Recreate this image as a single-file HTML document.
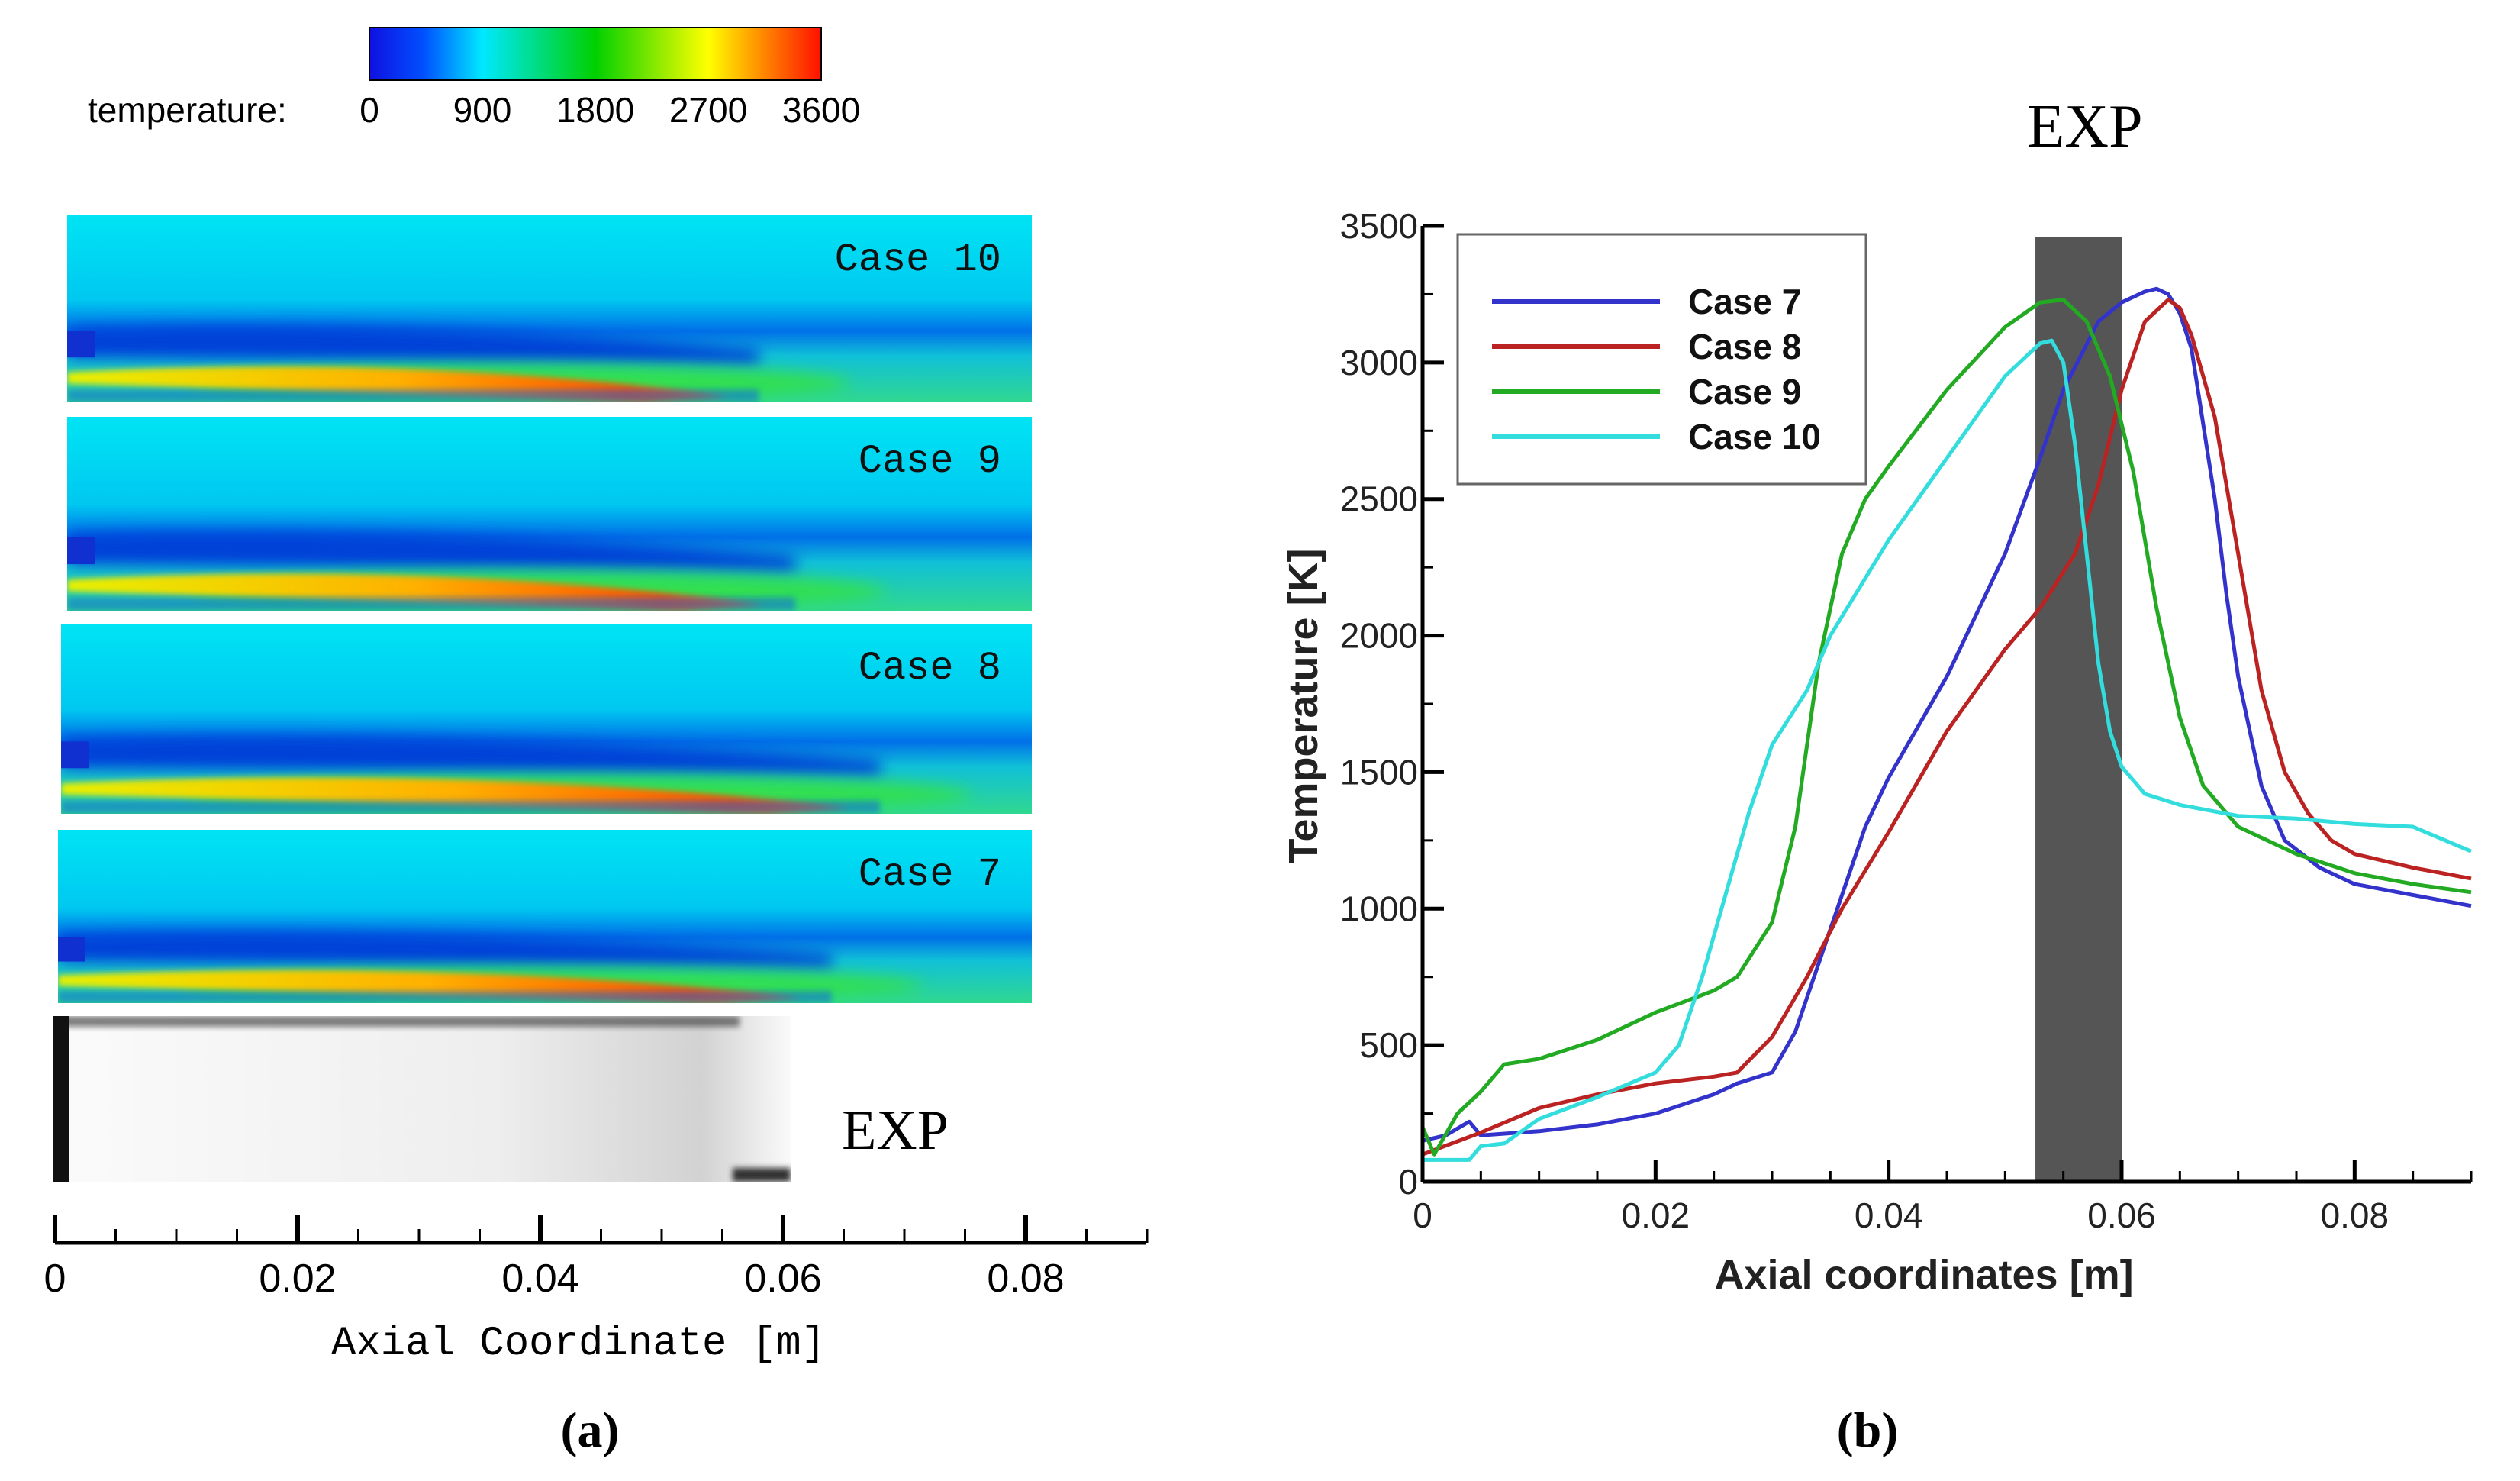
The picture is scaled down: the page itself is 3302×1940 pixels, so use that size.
<!DOCTYPE html>
<html><head><meta charset="utf-8"><style>
html,body{margin:0;padding:0;background:#fff;}
svg{display:block;}
</style></head><body>
<svg id="root" width="3302" height="1940" viewBox="0 0 3302 1940" xmlns="http://www.w3.org/2000/svg" font-family="Liberation Sans, sans-serif">
<defs>
<linearGradient id="cbar" x1="0" x2="1" y1="0" y2="0">
<stop offset="0" stop-color="#1010e0"/><stop offset="0.12" stop-color="#0050ff"/><stop offset="0.25" stop-color="#00e8ff"/><stop offset="0.5" stop-color="#00d000"/><stop offset="0.75" stop-color="#ffff00"/><stop offset="0.88" stop-color="#ff8000"/><stop offset="1" stop-color="#ff1000"/></linearGradient>
<linearGradient id="bg" x1="0" x2="0" y1="0" y2="1">
<stop offset="0" stop-color="#00e4f4"/><stop offset="0.45" stop-color="#00c8f0"/><stop offset="0.62" stop-color="#0070e8"/><stop offset="0.75" stop-color="#10c0d8"/><stop offset="1" stop-color="#30d890"/></linearGradient>
<linearGradient id="flame" x1="0" x2="1" y1="0" y2="0">
<stop offset="0" stop-color="#e8f000"/><stop offset="0.5" stop-color="#ffb000"/><stop offset="0.85" stop-color="#ff5000"/><stop offset="1" stop-color="#ff7000"/></linearGradient>
<linearGradient id="exp" x1="0" x2="1" y1="0" y2="0">
<stop offset="0" stop-color="#fbfbfb"/><stop offset="0.6" stop-color="#eeeeee"/><stop offset="0.88" stop-color="#d2d2d2"/><stop offset="1" stop-color="#fafafa"/></linearGradient>
<filter id="blur" x="-10%" y="-50%" width="120%" height="200%"><feGaussianBlur stdDeviation="10"/></filter>
<filter id="blur2" x="-10%" y="-50%" width="120%" height="200%"><feGaussianBlur stdDeviation="4"/></filter>
<clipPath id="c10"><rect x="88" y="282" width="1264" height="245"/></clipPath>
<clipPath id="c9"><rect x="88" y="546" width="1264" height="254"/></clipPath>
<clipPath id="c8"><rect x="80" y="817" width="1272" height="249"/></clipPath>
<clipPath id="c7"><rect x="76" y="1087" width="1276" height="227"/></clipPath>
<clipPath id="cexp"><rect x="69" y="1331" width="967" height="217"/></clipPath>
</defs>

<g>
<rect x="484" y="36" width="592" height="69" fill="url(#cbar)" stroke="#000" stroke-width="2"/>
<text x="115" y="160" font-size="46">temperature:</text>
<g font-size="46" text-anchor="middle"><text x="484" y="160">0</text><text x="632" y="160">900</text><text x="780" y="160">1800</text><text x="928" y="160">2700</text><text x="1076" y="160">3600</text></g>
</g>
<g id="panels"></g>
<g clip-path="url(#cexp)">
<rect x="69" y="1331" width="967" height="217" fill="url(#exp)"/>
<rect x="69" y="1331" width="900" height="14" fill="#444" opacity="0.7" filter="url(#blur2)"/>
<rect x="69" y="1331" width="22" height="217" fill="#111"/>
<rect x="960" y="1530" width="76" height="18" fill="#333" filter="url(#blur2)"/>
</g>
<text x="1173" y="1505" font-family="Liberation Serif, serif" font-size="74" text-anchor="middle">EXP</text>
<g id="axisA"></g>
<text x="758" y="1774" font-family="Liberation Mono, monospace" font-size="54" text-anchor="middle">Axial Coordinate [m]</text>
<text x="773" y="1895" font-family="Liberation Serif, serif" font-size="66" font-weight="bold" text-anchor="middle">(a)</text>

<text x="2732" y="192" font-family="Liberation Serif, serif" font-size="80" text-anchor="middle">EXP</text>
<g id="chartB"></g>
<text x="2447" y="1895" font-family="Liberation Serif, serif" font-size="66" font-weight="bold" text-anchor="middle">(b)</text>
</svg>
<script>
const NS='http://www.w3.org/2000/svg';
function mk(tag,attrs,parent){const e=document.createElementNS(NS,tag);for(const k in attrs)e.setAttribute(k,attrs[k]);parent.appendChild(e);return e;}

const seriesNames=['Case 7','Case 8','Case 9','Case 10'];
const seriesColors=['#3333cc','#bb2222','#22aa22','#33dddd'];
const case7X=[0,0.002,0.004,0.005,0.01,0.015,0.02,0.025,0.027,0.03,0.032,0.034,0.036,0.038,0.04,0.045,0.05,0.053,0.055,0.058,0.06,0.062,0.063,0.064,0.065,0.066,0.068,0.069,0.07,0.072,0.074,0.077,0.08,0.085,0.09];
const case7Y=[150,170,220,170,185,210,250,320,360,400,550,800,1050,1300,1480,1850,2300,2650,2900,3150,3220,3260,3270,3250,3180,3050,2500,2150,1850,1450,1250,1150,1090,1050,1010];
const case8X=[0,0.005,0.01,0.015,0.02,0.025,0.027,0.03,0.033,0.036,0.04,0.045,0.05,0.053,0.056,0.058,0.06,0.062,0.064,0.065,0.066,0.068,0.07,0.072,0.074,0.076,0.078,0.08,0.085,0.09];
const case8Y=[100,180,270,320,360,385,400,530,750,1000,1280,1650,1950,2100,2300,2550,2900,3150,3230,3200,3100,2800,2300,1800,1500,1350,1250,1200,1150,1110];
const case9X=[0,0.001,0.003,0.005,0.007,0.01,0.015,0.02,0.025,0.027,0.03,0.032,0.034,0.036,0.038,0.04,0.045,0.05,0.053,0.055,0.057,0.059,0.061,0.063,0.065,0.067,0.07,0.075,0.08,0.085,0.09];
const case9Y=[200,100,250,330,430,450,520,620,700,750,950,1300,1900,2300,2500,2620,2900,3130,3220,3230,3150,2950,2600,2100,1700,1450,1300,1200,1130,1090,1060];
const case10X=[0,0.004,0.005,0.007,0.01,0.015,0.02,0.022,0.024,0.026,0.028,0.03,0.033,0.035,0.04,0.045,0.05,0.053,0.054,0.055,0.056,0.057,0.058,0.059,0.06,0.062,0.065,0.07,0.075,0.08,0.085,0.09];
const case10Y=[80,80,130,140,230,310,400,500,750,1050,1350,1600,1800,2000,2350,2650,2950,3070,3080,3000,2700,2300,1900,1650,1520,1420,1380,1340,1330,1310,1300,1210];
const xTicks=[0,0.02,0.04,0.06,0.08];
const xTickLabels=['0','0.02','0.04','0.06','0.08'];
const yTicks=[0,500,1000,1500,2000,2500,3000,3500];
const expBand=[0.0526,0.0600];

const X0=1864,X1=3238,Y0=1548,Y1=296,XMAX=0.09,YMAX=3500;
const sx=v=>X0+(X1-X0)*v/XMAX;
const sy=v=>Y0-(Y0-Y1)*v/YMAX;
const g=document.getElementById('chartB');

let band=mk('rect',{x:sx(expBand[0]),y:sy(3460),width:sx(expBand[1])-sx(expBand[0]),height:Y0-sy(3460),fill:'#555'},g);



const allX=[case7X,case8X,case9X,case10X],allY=[case7Y,case8Y,case9Y,case10Y];
const lineNames=['line-case-7','line-case-8','line-case-9','line-case-10'];
for(let s=0;s<4;s++){
  let d='';
  for(let i=0;i<allX[s].length;i++)d+=(i?'L':'M')+sx(allX[s][i]).toFixed(1)+','+sy(allY[s][i]).toFixed(1);
  const p=mk('path',{d:d,fill:'none',stroke:seriesColors[s],'stroke-width':5,'stroke-linejoin':'round'},g);
  
  
}
mk('line',{x1:X0,y1:Y0,x2:X1,y2:Y0,stroke:'#000','stroke-width':5},g);
mk('line',{x1:X0,y1:Y0,x2:X0,y2:Y1,stroke:'#000','stroke-width':5},g);
for(let v=0;v<=0.0901;v+=0.005){const x=sx(v);const maj=Math.abs(v/0.02-Math.round(v/0.02))<1e-6;mk('line',{x1:x,y1:Y0,x2:x,y2:Y0-(maj?28:14),stroke:'#000','stroke-width':maj?5:3},g);}
for(let v=0;v<=3500;v+=250){const y=sy(v);const maj=v%500===0;mk('line',{x1:X0,y1:y,x2:X0+(maj?28:14),y2:y,stroke:'#000','stroke-width':maj?5:3},g);}
xTicks.forEach((v,i)=>{const t=mk('text',{x:sx(v),y:Y0+60,'font-size':46,'text-anchor':'middle',fill:'#222'},g);t.textContent=xTickLabels[i];

});
yTicks.forEach(v=>{const t=mk('text',{x:X0-6,y:sy(v)+16,'font-size':46,'text-anchor':'end',fill:'#222'},g);t.textContent=String(v);

});
let xt=mk('text',{x:(X0+X1)/2-30,y:1688,'font-size':54,'font-weight':'bold','text-anchor':'middle',fill:'#222'},g);xt.textContent='Axial coordinates [m]';


let yt=mk('text',{x:0,y:0,'font-size':54,'font-weight':'bold','text-anchor':'middle',fill:'#222',transform:'translate(1726,925) rotate(-90)'},g);yt.textContent='Temperature [K]';


const lg=mk('g',{},g);


mk('rect',{x:1910,y:307,width:535,height:327,fill:'#fff',stroke:'#666','stroke-width':3},lg);
for(let s=0;s<4;s++){const y=395+s*59;
  const e=mk('g',{},lg);
  
  
  mk('line',{x1:1955,y1:y,x2:2175,y2:y,stroke:seriesColors[s],'stroke-width':6},e);
  const t=mk('text',{x:2212,y:y+16,'font-size':46,'font-weight':'bold',fill:'#111'},e);t.textContent=seriesNames[s];}

const A0=72,APER=318/0.02;const ax=document.getElementById('axisA');
const AY=1628;
mk('line',{x1:A0,y1:AY,x2:1502,y2:AY,stroke:'#000','stroke-width':5},ax);
for(let v=0;v<=0.0901;v+=0.005){const x=A0+APER*v;const maj=Math.abs(v/0.02-Math.round(v/0.02))<1e-6;mk('line',{x1:x,y1:AY,x2:x,y2:AY-(maj?36:18),stroke:'#000','stroke-width':maj?6:3},ax);}
xTicks.forEach((v,i)=>{const t=mk('text',{x:A0+APER*v,y:AY+64,'font-size':52,'text-anchor':'middle'},ax);t.textContent=xTickLabels[i];

});

const panelLabels=['Case 10','Case 9','Case 8','Case 7'];
const panelBox=[[88,282,1264,245],[88,546,1264,254],[80,817,1272,249],[76,1087,1276,227]];
const flameEnd=[0.058,0.061,0.068,0.064];
const clips=['c10','c9','c8','c7'];
const pg=document.getElementById('panels');
for(let k=0;k<4;k++){
  const [x,y,w,h]=panelBox[k];
  const p=mk('g',{'clip-path':'url(#'+clips[k]+')'},pg);
  
  
  mk('rect',{x:x,y:y,width:w,height:h,fill:'url(#bg)'},p);
  const fe=A0+APER*flameEnd[k];
  mk('path',{d:`M${x},${y+h*0.6} Q${(x+fe)/2},${y+h*0.55} ${fe},${y+h*0.72} L${fe},${y+h*0.8} L${x},${y+h*0.76}Z`,fill:'#0640d8',filter:'url(#blur)'},p);
  mk('ellipse',{cx:(x+fe)/2+140,cy:y+h*0.9,rx:(fe-x)/2-20,ry:h*0.1,fill:'#30e050',filter:'url(#blur)'},p);
  mk('path',{d:`M${x},${y+h*0.84} Q${(x+fe)/2},${y+h*0.74} ${fe-40},${y+h*0.97} L${fe-150},${y+h} L${x},${y+h*0.9}Z`,fill:'url(#flame)',filter:'url(#blur2)'},p);
  mk('path',{d:`M${x},${y+h*0.86} L${fe-200},${y+h*0.86}`,stroke:'#ffe000','stroke-width':5,fill:'none',filter:'url(#blur2)'},p);
  mk('rect',{x:x,y:y+h*0.93,width:fe-x,height:h*0.07,fill:'#1060e0',opacity:0.5,filter:'url(#blur2)'},p);
  mk('rect',{x:x,y:y+h*0.62,width:36,height:h*0.14,fill:'#1030d0'},p);
  const t=mk('text',{x:x+w-40,y:y+72,'font-size':52,'font-family':'Liberation Mono, monospace','text-anchor':'end',fill:'#111'},pg);
  t.textContent=panelLabels[k].replace(' ','\u00a0');
  
  
}
</script>
</body></html>
